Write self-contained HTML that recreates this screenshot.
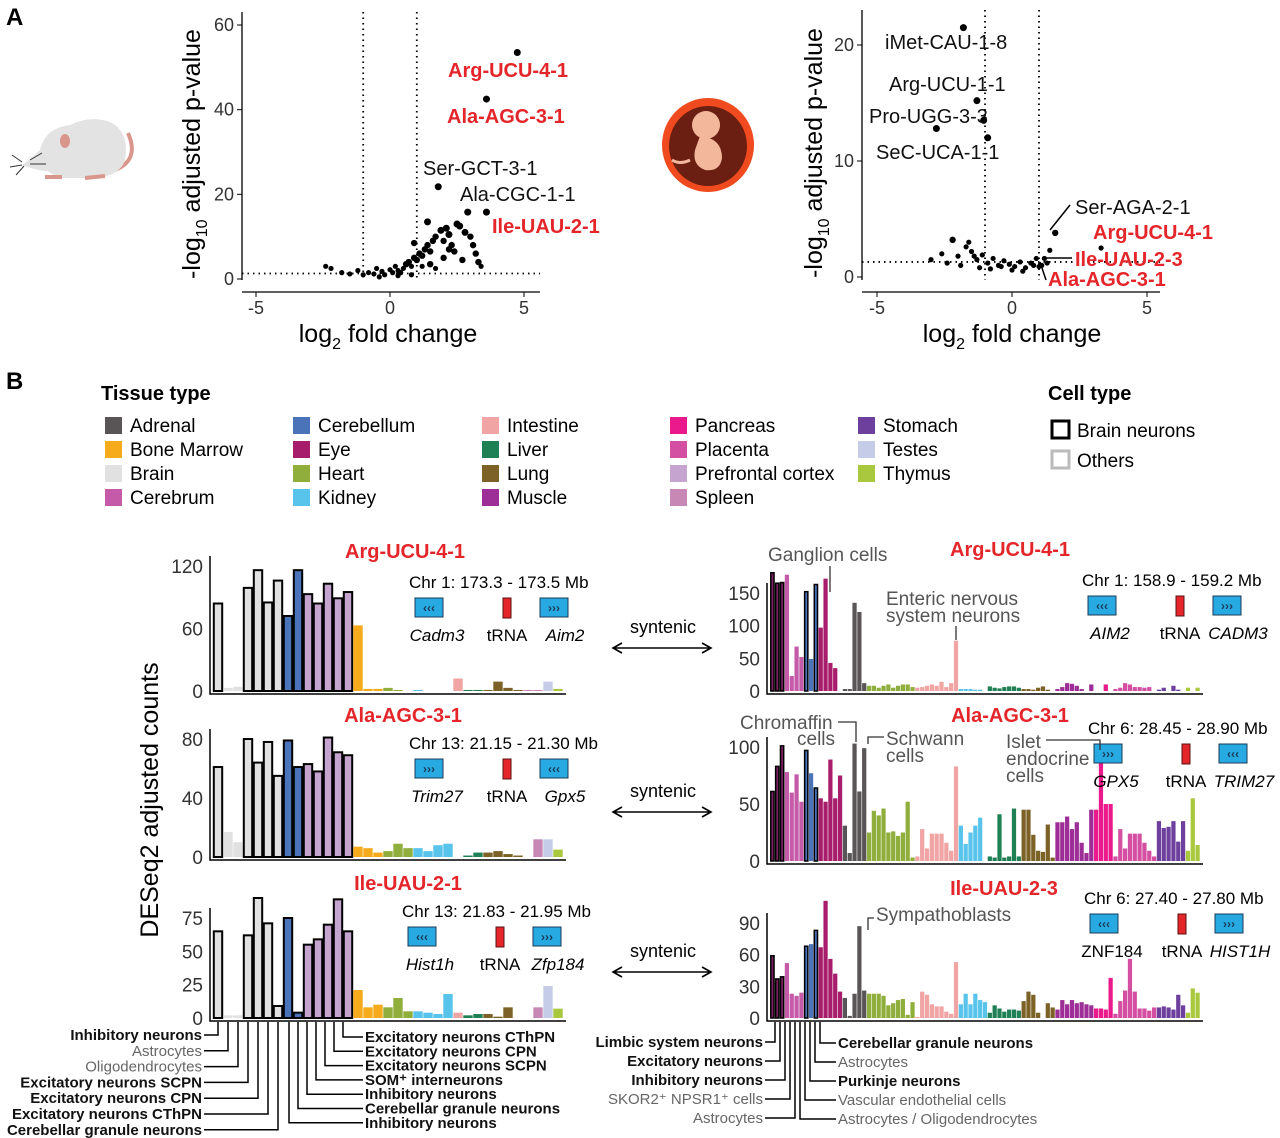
<!DOCTYPE html>
<html><head><meta charset="utf-8"><title>tRNA figure</title>
<style>
html,body{margin:0;padding:0;background:#fff;}
svg{display:block;font-family:"Liberation Sans",sans-serif;}
.narrow{font-family:"Liberation Sans Narrow","Liberation Sans",sans-serif;}
</style></head>
<body>
<svg id="fig" width="1280" height="1138" viewBox="0 0 1280 1138" xmlns="http://www.w3.org/2000/svg">
  <text x="6" y="25" font-size="24" font-weight="bold">A</text>
  <text x="6" y="389" font-size="24" font-weight="bold">B</text>
  <g>
    <path d="M128,133 Q140,160 115,170 Q100,176 82,176" fill="none" stroke="#d9978c" stroke-width="4"/>
    <path d="M40,150 Q45,128 70,125 Q90,115 110,122 Q130,132 125,160 Q120,176 95,178 L60,178 Q42,172 40,150 Z" fill="#e3e3e3"/>
    <path d="M40,150 Q30,160 22,165 Q40,172 58,172 Z" fill="#e3e3e3"/>
    <ellipse cx="65" cy="141" rx="5" ry="7" fill="#d9978c"/>
    <path d="M45,177 L62,177 M85,178 L105,176" stroke="#d9978c" stroke-width="4"/>
    <path d="M22,162 L12,155 M22,165 L10,167 M24,166 L16,175 M30,160 L42,153 M30,164 L46,164" stroke="#333" stroke-width="1"/>
  </g>
  <g>
    <ellipse cx="708" cy="145" rx="46" ry="47" fill="#f04a1f"/>
    <ellipse cx="708" cy="146" rx="39" ry="40" fill="#6b1e12"/>
    <circle cx="706" cy="125" r="14" fill="#f3b79c"/>
    <path d="M700,136 Q722,138 722,158 Q720,172 705,170 Q692,165 695,150 Z" fill="#f3b79c"/>
    <path d="M690,160 Q680,165 672,160" stroke="#f3b79c" stroke-width="3" fill="none"/>
  </g>
</svg>
<script>
// ===== DATA =====
const mouseFC = [4.75,3.6,1.8,2.9,3.6,-2.4,-2.2,-1.8,-1.5,-1.2,-1.0,-0.8,-0.6,-0.5,-0.3,-0.2,0.0,0.1,0.2,0.3,0.4,0.5,0.6,0.7,0.8,0.9,1.0,1.1,1.2,1.3,1.4,1.5,1.6,1.7,1.9,2.0,2.1,2.2,2.3,2.5,2.6,2.8,3.0,3.1,3.2,3.3,1.2,1.5,2.0,2.4,0.8,0.3,-0.4,1.7,2.7,3.4,0.9,1.4,2.2];
const mousePV = [53.5,42.5,21.8,15.8,15.8,3.0,2.5,1.5,1.2,2.0,1.0,1.5,1.2,2.5,1.8,1.0,2.2,1.5,3.0,2.0,1.5,2.5,3.5,4.0,3.0,5.0,4.5,6.0,5.5,7.0,8.0,6.5,9.0,10.0,11.5,9.0,12.0,10.5,8.0,13.0,12.5,11.0,10.0,8.0,6.0,4.0,3.0,3.5,5.0,6.5,1.0,0.8,0.5,2.5,4.5,3.0,8.5,13.5,7.0];
const humanFC = [-1.8,-1.3,-2.8,-0.9,-1.05,1.6,3.3,1.2,1.4,1.1,-2.6,-2.2,-2.0,-1.7,-1.5,-1.3,-1.1,-0.9,-0.7,-0.5,-0.3,-0.1,0.1,0.3,0.5,0.7,0.9,1.0,-2.4,-1.9,-1.6,-1.2,-0.8,-0.4,0.0,0.4,0.8,-3.0,-1.4,1.3];
const humanPV = [21.5,15.2,12.8,12.0,13.5,3.8,2.5,1.6,2.3,1.0,2.0,3.2,1.8,2.6,2.2,1.5,1.9,1.2,1.6,1.0,1.4,1.1,0.9,1.3,0.8,1.2,1.6,0.9,1.2,1.0,3.0,0.8,0.7,0.9,0.6,0.5,1.0,1.5,1.8,1.2];
const volcXTicks = [-5,0,5];
const mouseYTicks = [0,20,40,60];
const humanYTicks = [0,10,20];

const tissueNames = ["Adrenal","Bone Marrow","Brain","Cerebrum","Cerebellum","Eye","Heart","Kidney","Intestine","Liver","Lung","Muscle","Pancreas","Placenta","Prefrontal cortex","Spleen","Stomach","Testes","Thymus"];
const tissueColors = {"Adrenal":"#595456","Bone Marrow":"#f5ab1c","Brain":"#e2e1e1","Cerebrum":"#c45aa8","Cerebellum":"#4a73b9","Eye":"#a81d6b","Heart":"#8fae3c","Kidney":"#58c4ec","Intestine":"#f0a4a4","Liver":"#1e8054","Lung":"#7d6227","Muscle":"#9e2e97","Pancreas":"#ea1a8c","Placenta":"#d44fa1","Prefrontal cortex":"#c6a4d0","Spleen":"#c888b5","Stomach":"#6e409e","Testes":"#c5cce7","Thymus":"#a9c83d","Neuron":"#7b2060"};

const mouseCats = ["Brain","Brain","Brain","Brain","Brain","Brain","Brain","Cerebellum","Cerebellum","Prefrontal cortex","Prefrontal cortex","Prefrontal cortex","Prefrontal cortex","Prefrontal cortex","Bone Marrow","Bone Marrow","Bone Marrow","Heart","Heart","Heart","Kidney","Kidney","Kidney","Kidney","Intestine","Liver","Liver","Lung","Lung","Lung","Lung","Spleen","Spleen","Testes","Thymus"];
const mouseOutlined = [1,0,0,1,1,1,1,1,1,1,1,1,1,1,0,0,0,0,0,0,0,0,0,0,0,0,0,0,0,0,0,0,0,0,0];
const argMouseVals = [84,3,4,99,116,85,106,72,116,93,84,103,89,95,63,2,2,3,1,0,1,0,0,0,12,1,1,1,9,3,1,1,1,9,2];
const alaMouseVals = [61,17,10,80,64,78,55,79,61,63,58,81,71,69,7,6,3,4,9,6,6,4,8,9,0,1,3,3,4,2,1,0,12,12,5];
const ileMouseVals = [65,2,2,62,90,71,9,75,4,55,59,70,89,65,21,8,10,8,15,5,5,4,3,18,4,2,3,3,1,8,0,0,8,24,7];
const argMouseTicks=[0,60,120], alaMouseTicks=[0,40,80], ileMouseTicks=[0,25,50,75];

const humanGroups = [["Neuron",3],["Cerebrum",4],["Cerebellum",3],["Eye",5],["Adrenal",5],["Heart",10],["Intestine",9],["Kidney",6],["Liver",7],["Lung",7],["Muscle",8],["Pancreas",4],["Placenta",9],["Stomach",6],["Thymus",3]];
const argHumanVals = [181,165,166, 178,23,68,52, 152,49,163, 97,172,43,35,0, 3,3,135,121,12, 8,8,5,8,10,5,8,10,10,6, 5,6,8,10,8,14,6,12,77, 3,3,3,2,2,0, 7,5,4,6,7,7,5, 3,3,2,5,7,2,0, 3,6,12,11,8,3,0,10, 0,0,10,0, 3,5,12,10,6,6,5,6,0, 2,5,0,8,2,0, 5,0,5];
const alaHumanVals = [61,83,101, 78,60,76,52, 97,77,64, 55,52,89,55,75, 31,7,103,61,99, 25,44,40,46,25,26,22,25,52,3, 4,28,11,24,24,24,16,9,83, 31,15,25,31,38,0, 4,3,41,3,4,46,4, 45,45,23,9,8,32,3, 34,34,39,28,34,16,7,45, 45,97,50,50, 4,28,11,24,24,24,16,9,4, 35,29,30,35,17,35, 9,55,14];
const ileHumanVals = [59,37,39, 52,23,21,24, 68,70,83, 67,111,56,42,25, 19,2,23,87,26, 23,23,23,21,12,14,17,18,3,15, 1,25,22,13,11,11,6,4,53, 13,23,13,23,17,15, 5,12,9,6,8,8,7, 16,25,22,5,0,14,10, 8,17,13,17,14,15,13,12, 9,9,8,38, 4,16,26,56,25,9,9,7,10, 10,11,10,8,22,12, 5,28,24];
const argHumanTicks=[0,50,100,150], alaHumanTicks=[0,50,100], ileHumanTicks=[0,30,60,90];

// ===== DRAW =====
const NS="http://www.w3.org/2000/svg";
const svg=document.getElementById('fig');
function mk(tag, attrs, parent, txt){
  const e=document.createElementNS(NS,tag);
  for(const k in attrs) e.setAttribute(k,attrs[k]);
  if(txt!==undefined) e.textContent=txt;
  (parent||svg).appendChild(e);
  return e;
}
function lin(d0,d1,r0,r1){return v=>r0+(v-d0)/(d1-d0)*(r1-r0);}

function volcano(cfg){
  const g=mk('g',{});
  
  
  const X=lin(0,5,cfg.x0,cfg.x5), Y=lin(0,cfg.ymax,cfg.y0,cfg.yTop);
  const ax=mk('path',{d:`M${cfg.axX},${cfg.axTop} V${cfg.axBot} M${cfg.axX},${cfg.axBot+12} H${cfg.axRight}`,stroke:'#000','stroke-width':1.3,fill:'none'},g);
  
  
  for(const t of volcXTicks){
    const tk=mk('line',{x1:X(t),x2:X(t),y1:cfg.axBot+12,y2:cfg.axBot+17,stroke:'#000'},g);
    
    
    const tl=mk('text',{x:X(t),y:cfg.axBot+34,'font-size':18,'text-anchor':'middle',fill:'#333'},g,String(t));
    
    
  }
  for(const t of cfg.yTicks){
    const tk=mk('line',{x1:cfg.axX-5,x2:cfg.axX,y1:Y(t),y2:Y(t),stroke:'#000'},g);
    
    
    const tl=mk('text',{x:cfg.axX-8,y:Y(t)+6,'font-size':18,'text-anchor':'end',fill:'#333'},g,String(t));
    
    
  }
  const dl=mk('path',{d:`M${X(-1)},${cfg.axTop} V${cfg.axBot} M${X(1)},${cfg.axTop} V${cfg.axBot} M${cfg.axX},${Y(1.3)} H${cfg.axRight}`,stroke:'#000','stroke-width':1.8,'stroke-dasharray':'1.5 4',fill:'none'},g);
  
  
  cfg.fc.forEach((v,i)=>{
    const r=cfg.pv[i]>10?3.5:(cfg.pv[i]>3?3.2:2.6);
    const c=mk('circle',{cx:X(v),cy:Y(cfg.pv[i]),r:r,fill:'#000'},g);
    
    
  });
  const xl=mk('text',{x:cfg.xlabX,y:cfg.axBot+62,'font-size':25,'text-anchor':'middle'},g);
  xl.innerHTML='log<tspan font-size="16" dy="7">2</tspan><tspan dy="-7"> fold change</tspan>';
  
  
  const yl=mk('text',{transform:`translate(${cfg.ylabX},${(cfg.axTop+cfg.axBot)/2+8}) rotate(-90)`,'font-size':25,'text-anchor':'middle'},g);
  yl.innerHTML='-log<tspan font-size="16" dy="7">10</tspan><tspan dy="-7"> adjusted p-value</tspan>';
  
  
  return g;
}
const gm=volcano({name:'mouse-volcano',x0:390,x5:524,y0:279,yTop:25,ymax:60,axX:242,axTop:12,axBot:280,axRight:540,yTicks:mouseYTicks,fc:mouseFC,pv:mousePV,xlabX:388,ylabX:200});
const gh=volcano({name:'human-volcano',x0:1012,x5:1147,y0:277,yTop:45,ymax:20,axX:862,axTop:10,axBot:280,axRight:1160,yTicks:humanYTicks,fc:humanFC,pv:humanPV,xlabX:1012,ylabX:822});

function label(p,x,y,t,red,size){
  const e=mk('text',{x:x,y:y,'font-size':size||20,fill:red?'#e4262b':'#111','font-weight':red?'bold':'normal'},p,t);
  
  
  return e;
}
label(gm,448,77,'Arg-UCU-4-1',1);label(gm,447,123,'Ala-AGC-3-1',1);
label(gm,423,175,'Ser-GCT-3-1');label(gm,460,201,'Ala-CGC-1-1');label(gm,492,233,'Ile-UAU-2-1',1);
label(gh,885,49,'iMet-CAU-1-8');label(gh,889,91,'Arg-UCU-1-1');label(gh,869,123,'Pro-UGG-3-3');label(gh,876,159,'SeC-UCA-1-1');
label(gh,1075,214,'Ser-AGA-2-1');label(gh,1093,239,'Arg-UCU-4-1',1);label(gh,1075,266,'Ile-UAU-2-3',1);label(gh,1048,286,'Ala-AGC-3-1',1);
const ll=mk('path',{d:'M1070,205 L1050,230 M1072,258 L1046,258 M1046,280 L1040,262',stroke:'#000','stroke-width':1.5,fill:'none'},gh);



const lg=mk('g',{});


mk('text',{x:101,y:400,'font-size':20,'font-weight':'bold'},lg,'Tissue type');
const colX=[105,293,482,670,858];
tissueNames.forEach((n,i)=>{
  const col=Math.floor(i/4), row=i%4;
  const x=colX[col], y=417+row*24;
  const s=mk('rect',{x:x,y:y,width:17,height:17,fill:tissueColors[n]},lg);
  
  
  const t=mk('text',{x:x+25,y:y+15,'font-size':19},lg,n);
  
  
});
const cg=mk('g',{});


mk('text',{x:1048,y:400,'font-size':20,'font-weight':'bold'},cg,'Cell type');
mk('rect',{x:1052,y:421,width:17,height:17,fill:'#fff',stroke:'#000','stroke-width':3},cg);
mk('text',{x:1077,y:437,'font-size':19},cg,'Brain neurons');
mk('rect',{x:1052,y:451,width:17,height:17,fill:'#fff',stroke:'#bbb','stroke-width':3},cg);
mk('text',{x:1077,y:467,'font-size':19},cg,'Others');

function barChart(cfg){
  const g=mk('g',{});
  
  
  const Y=lin(0,cfg.tmax,cfg.y0,cfg.yTop);
  const n=cfg.vals.length, bw=(cfg.x1-cfg.x0)/n;
  cfg.vals.forEach((v,i)=>{
    const out=cfg.outlined[i];
    const r=mk('rect',{x:cfg.x0+i*bw+(out?0.8:0.3),y:Y(v),width:bw-(out?1.6:0.6),height:Math.max(0,cfg.y0-Y(v)),fill:tissueColors[cfg.cats[i]]},g);
    if(out){r.setAttribute('stroke','#000');r.setAttribute('stroke-width',cfg.sw);}
    
    
  });
  const ax=mk('path',{d:`M${cfg.x0-3},${cfg.yTop-10} V${cfg.y0+3} H${cfg.x1+3}`,stroke:'#000','stroke-width':1.5,fill:'none'},g);
  
  
  for(const t of cfg.ticks){
    const tl=mk('text',{x:cfg.x0-10,y:Y(t)+7,'font-size':19,'text-anchor':'end',fill:'#333'},g,String(t));
    
    
  }
  const tt=mk('text',{x:cfg.titleX,y:cfg.titleY,'font-size':20,'font-weight':'bold',fill:'#e4262b','text-anchor':'middle'},g,cfg.title);
  
  
  return g;
}
const hCats=[], hOut=[];
humanGroups.forEach(([c,k])=>{for(let i=0;i<k;i++){hCats.push(c);hOut.push(c==='Neuron'||(c==='Cerebellum'&&i!==1)?1:0);}});

barChart({name:'mouse-arg-chart',x0:213,x1:563,y0:691,yTop:566,tmax:120,vals:argMouseVals,cats:mouseCats,outlined:mouseOutlined,ticks:argMouseTicks,title:'Arg-UCU-4-1',titleX:405,titleY:558,sw:2});
barChart({name:'mouse-ala-chart',x0:213,x1:563,y0:857,yTop:739,tmax:80,vals:alaMouseVals,cats:mouseCats,outlined:mouseOutlined,ticks:alaMouseTicks,title:'Ala-AGC-3-1',titleX:403,titleY:722,sw:2});
barChart({name:'mouse-ile-chart',x0:213,x1:563,y0:1018,yTop:918,tmax:75,vals:ileMouseVals,cats:mouseCats,outlined:mouseOutlined,ticks:ileMouseTicks,title:'Ile-UAU-2-1',titleX:408,titleY:890,sw:2});
barChart({name:'human-arg-chart',x0:770,x1:1200,y0:691,yTop:593,tmax:150,vals:argHumanVals,cats:hCats,outlined:hOut,ticks:argHumanTicks,title:'Arg-UCU-4-1',titleX:1010,titleY:556,sw:1.5});
barChart({name:'human-ala-chart',x0:770,x1:1200,y0:861,yTop:747,tmax:100,vals:alaHumanVals,cats:hCats,outlined:hOut,ticks:alaHumanTicks,title:'Ala-AGC-3-1',titleX:1010,titleY:722,sw:1.5});
barChart({name:'human-ile-chart',x0:770,x1:1200,y0:1018,yTop:923,tmax:90,vals:ileHumanVals,cats:hCats,outlined:hOut,ticks:ileHumanTicks,title:'Ile-UAU-2-3',titleX:1004,titleY:895,sw:1.5});

const dl=mk('text',{transform:'translate(158,800) rotate(-90)','font-size':25,'text-anchor':'middle'},svg,'DESeq2 adjusted counts');



function gene(x,y,chr,g1,d1,g2,d2,ital){
  const g=mk('g',{});
  
  
  mk('text',{x:x,y:y,'font-size':17},g,chr);
  const bx=x+6, by=y+10;
  mk('rect',{x:bx,y:by,width:28,height:19,fill:'#27aae1',stroke:'#1b3a57','stroke-width':1},g);
  mk('text',{x:bx+14,y:by+14,'font-size':12,'font-weight':'bold','text-anchor':'middle',fill:'#1b3a57'},g,d1);
  mk('rect',{x:bx+88,y:by,width:8,height:20,fill:'#e4262b',stroke:'#5a1010','stroke-width':1},g);
  mk('rect',{x:bx+125,y:by,width:28,height:19,fill:'#27aae1',stroke:'#1b3a57','stroke-width':1},g);
  mk('text',{x:bx+139,y:by+14,'font-size':12,'font-weight':'bold','text-anchor':'middle',fill:'#1b3a57'},g,d2);
  mk('text',{x:bx+22,y:by+43,'font-size':17,'text-anchor':'middle','font-style':ital[0]?'italic':'normal'},g,g1);
  mk('text',{x:bx+92,y:by+43,'font-size':17,'text-anchor':'middle'},g,'tRNA');
  mk('text',{x:bx+150,y:by+43,'font-size':17,'text-anchor':'middle','font-style':ital[1]?'italic':'normal'},g,g2);
}
gene(409,588,'Chr 1: 173.3 - 173.5 Mb','Cadm3','‹‹‹','Aim2','›››',[1,1]);
gene(409,749,'Chr 13: 21.15 - 21.30 Mb','Trim27','›››','Gpx5','‹‹‹',[1,1]);
gene(402,917,'Chr 13: 21.83 - 21.95 Mb','Hist1h','‹‹‹','Zfp184','›››',[1,1]);
gene(1082,586,'Chr 1: 158.9 - 159.2 Mb','AIM2','‹‹‹','CADM3','›››',[1,1]);
gene(1088,734,'Chr 6: 28.45 - 28.90 Mb','GPX5','›››','TRIM27','‹‹‹',[1,1]);
gene(1084,904,'Chr 6: 27.40 - 27.80 Mb','ZNF184','‹‹‹','HIST1H','›››',[0,1]);

[648,812,972].forEach((y)=>{
  const g=mk('g',{});
  
  
  mk('text',{x:663,y:y-15,'font-size':18,'text-anchor':'middle'},g,'syntenic');
  mk('path',{d:`M615,${y} H709 M622,${y-5} L613,${y} L622,${y+5} M702,${y-5} L711,${y} L702,${y+5}`,stroke:'#000','stroke-width':1.6,fill:'none'},g);
});

function ann(x,y,lines){
  lines.forEach((t,i)=>{
    const e=mk('text',{x:x,y:y+i*17,'font-size':19,fill:'#555'},svg,t);
    
    
  });
}
ann(768,561,['Ganglion cells']);ann(886,605,['Enteric nervous','system neurons']);
ann(740,729,['Chromaffin']);ann(797,745,['cells']);ann(886,745,['Schwann','cells']);
ann(1006,748,['Islet','endocrine','cells']);ann(876,921,['Sympathoblasts']);
const al=mk('path',{d:'M830,566 V592 M956,626 V640 M838,722 H856 V742 M884,737 H868 V744 M1046,740 H1100 V750 M868,930 V918 H874',stroke:'#333','stroke-width':1.3,fill:'none'});



function cl(x,y,t,bold,anchor){
  const e=mk('text',{x:x,y:y,'font-size':15,'font-weight':bold?'bold':'normal',fill:bold?'#111':'#666','text-anchor':anchor,'class':'narrow'},svg,t);
  
  
}
const lL=[['Inhibitory neurons',1],['Astrocytes',0],['Oligodendrocytes',0],['Excitatory neurons SCPN',1],['Excitatory neurons CPN',1],['Excitatory neurons CThPN',1],['Cerebellar granule neurons',1]];
let p='';
lL.forEach(([t,b],i)=>{const y=1040+i*15.8;cl(202,y,t,b,'end');const sx=218+i*10;p+=`M204,${y-5} H${sx} V1022 `;});
const lR=[['Excitatory neurons CThPN',1],['Excitatory neurons CPN',1],['Excitatory neurons SCPN',1],['SOM⁺ interneurons',1],['Inhibitory neurons',1],['Cerebellar granule neurons',1],['Inhibitory neurons',1]];
lR.forEach(([t,b],i)=>{const y=1042+i*14.3;cl(365,y,t,b,'start');const sx=343-i*9;p+=`M363,${y-5} H${sx} V1022 `;});
const rL=[['Limbic system neurons',1],['Excitatory neurons',1],['Inhibitory neurons',1],['SKOR2⁺ NPSR1⁺ cells',0],['Astrocytes',0]];
rL.forEach(([t,b],i)=>{const y=1047+i*19;cl(763,y,t,b,'end');const sx=775+i*5;p+=`M765,${y-5} H${sx} V1022 `;});
const rR=[['Cerebellar granule neurons',1],['Astrocytes',0],['Purkinje neurons',1],['Vascular endothelial cells',0],['Astrocytes / Oligodendrocytes',0]];
rR.forEach(([t,b],i)=>{const y=1048+i*19;cl(838,y,t,b,'start');const sx=820-i*5;p+=`M836,${y-5} H${sx} V1022 `;});
const cll=mk('path',{d:p,stroke:'#000','stroke-width':1.5,fill:'none'});


</script>
</body></html>
